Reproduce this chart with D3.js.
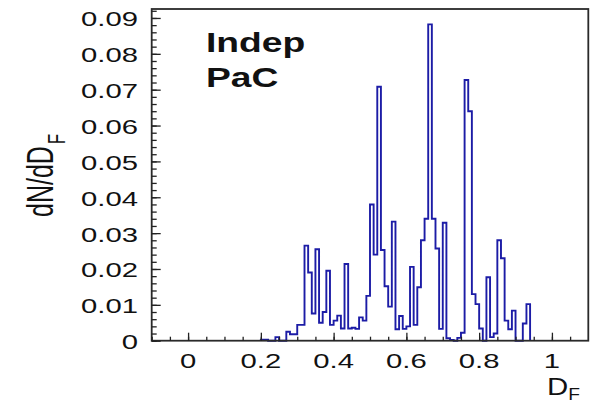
<!DOCTYPE html>
<html>
<head>
<meta charset="utf-8">
<script src="https://cdn.jsdelivr.net/npm/d3@7"></script>
<style>
	body { margin: 0; background: #fff; }
	text { font-family: "Liberation Sans", Arial, sans-serif; fill: #111; }
</style>
</head>
<body>
<div id="chart"></div>
<script>
// histogram bins: lower edge of each 0.01 bin, from 0.20 up to 0.93
const binWidth = 0.01
const binLow = [0.20,0.21,0.22,0.23,0.24,0.25,0.26,0.27,0.28,0.29,
	0.30,0.31,0.32,0.33,0.34,0.35,0.36,0.37,0.38,0.39,
	0.40,0.41,0.42,0.43,0.44,0.45,0.46,0.47,0.48,0.49,
	0.50,0.51,0.52,0.53,0.54,0.55,0.56,0.57,0.58,0.59,
	0.60,0.61,0.62,0.63,0.64,0.65,0.66,0.67,0.68,0.69,
	0.70,0.71,0.72,0.73,0.74,0.75,0.76,0.77,0.78,0.79,
	0.80,0.81,0.82,0.83,0.84,0.85,0.86,0.87,0.88,0.89,
	0.90,0.91,0.92,0.93]
const dNdD = [0.0003,0.0003,0,0,0.001,0,0,0.0025,0.0018,0.0018,
	0.0044,0.0044,0.0265,0.019,0.0076,0.0255,0.005,0.008,0.0195,0.0044,
	0.0056,0.007,0.0034,0.0214,0.0034,0.0036,0.0033,0.0065,0.0056,0.0125,
	0.038,0.024,0.0708,0.0253,0.0152,0.0095,0.0332,0.0032,0.0069,0.0033,
	0.004,0.0206,0.0044,0.0149,0.028,0.034,0.0882,0.034,0.0257,0.0033,
	0.0329,0.0007,0.0002,0,0.0008,0.0022,0.0727,0.064,0.013,0.0102,
	0.0034,0,0.0177,0.001,0.002,0.028,0.023,0.0056,0.0032,0.0084,
	0,0,0.0048,0.0102]

const xTicks = [0, 0.2, 0.4, 0.6, 0.8, 1]
const xTickLabels = ["0", "0.2", "0.4", "0.6", "0.8", "1"]
const yTicks = [0, 0.01, 0.02, 0.03, 0.04, 0.05, 0.06, 0.07, 0.08, 0.09]
const yTickLabels = ["0", "0.01", "0.02", "0.03", "0.04", "0.05", "0.06", "0.07", "0.08", "0.09"]

const svgWidth = 593, svgHeight = 403
const frame = { left: 151.7, right: 588.3, top: 9, bottom: 340.7 }
const stretch = 1.5 // the picture is wider than the font

let svg = d3.select("#chart").append("svg")
	.attr("width", svgWidth)
	.attr("height", svgHeight)

var x = d3.scaleLinear().domain([-0.1, 1.1]).range([frame.left, frame.right])
var y = d3.scaleLinear().domain([0, 0.0925]).range([frame.bottom, frame.top])

// histogram outline as steps
let pts = [[binLow[0], 0]]
binLow.forEach((b, i) => {
	pts.push([b, dNdD[i]])
	pts.push([b + binWidth, dNdD[i]])
})
pts.push([binLow[binLow.length - 1] + binWidth, 0])

svg.append("path")
	.datum(pts)
	.attr("fill", "none")
	.attr("stroke", "#1c1ca6")
	.attr("stroke-width", 1.9)
	.attr("d", d3.line().x(d => x(d[0])).y(d => y(d[1])))

// frame
svg.append("rect")
	.attr("x", frame.left)
	.attr("y", frame.top)
	.attr("width", frame.right - frame.left)
	.attr("height", frame.bottom - frame.top)
	.attr("fill", "none")
	.attr("stroke", "#2a2a2a")
	.attr("stroke-width", 1.8)

// ticks
const xMinor = d3.range(-2, 22).map(i => i * 0.05)
const yMinor = d3.range(0, 47).map(i => i * 0.002)

svg.append("g")
	.attr("transform", "translate(0," + frame.bottom + ")")
	.call(d3.axisBottom(x).tickValues(xMinor).tickSize(-4).tickFormat(""))
	.call(g => g.select(".domain").remove())
svg.append("g")
	.attr("transform", "translate(0," + frame.bottom + ")")
	.call(d3.axisBottom(x).tickValues(xTicks).tickSize(-8).tickFormat(""))
	.call(g => g.select(".domain").remove())
svg.append("g")
	.attr("transform", "translate(" + frame.left + ",0)")
	.call(d3.axisLeft(y).tickValues(yMinor).tickSize(-5).tickFormat(""))
	.call(g => g.select(".domain").remove())
svg.append("g")
	.attr("transform", "translate(" + frame.left + ",0)")
	.call(d3.axisLeft(y).tickValues(yTicks).tickSize(-9).tickFormat(""))
	.call(g => g.select(".domain").remove())
svg.selectAll(".tick line").attr("stroke", "#222").attr("stroke-width", 1.3)

// tick labels
svg.selectAll("text.xlab")
	.data(xTicks)
	.enter()
	.append("text")
	.attr("class", "xlab")
	.attr("transform", d => "translate(" + x(d) + ",367.5) scale(" + stretch + ",1)")
	.attr("text-anchor", "middle")
	.attr("font-size", "19.5px")
	.text((d, i) => xTickLabels[i])

svg.selectAll("text.ylab")
	.data(yTicks)
	.enter()
	.append("text")
	.attr("class", "ylab")
	.attr("transform", d => "translate(138," + (y(d) + 8.5) + ") scale(" + stretch + ",1)")
	.attr("text-anchor", "end")
	.attr("font-size", "19.5px")
	.text((d, i) => yTickLabels[i])

// axis titles
let xt = svg.append("text")
	.attr("transform", "translate(547,395) scale(1.2,1)")
	.attr("font-size", "24.5px")
xt.append("tspan").text("D")
xt.append("tspan").attr("font-size", "16px").attr("dy", 4.5).text("F")

let yt = svg.append("text")
	.attr("transform", "translate(53,217) scale(1.45,1) rotate(-90)")
	.attr("font-size", "25px")
yt.append("tspan").text("dN/dD")
yt.append("tspan").attr("font-size", "17px").attr("dx", 2).attr("dy", 8).text("F")

// labels in the pad
svg.append("text")
	.attr("transform", "translate(206,52.3) scale(1.33,1)")
	.attr("font-size", "28px")
	.attr("font-weight", "bold")
	.text("Indep")
svg.append("text")
	.attr("transform", "translate(206,87.3) scale(1.33,1)")
	.attr("font-size", "28px")
	.attr("font-weight", "bold")
	.text("PaC")
</script>
</body>
</html>
